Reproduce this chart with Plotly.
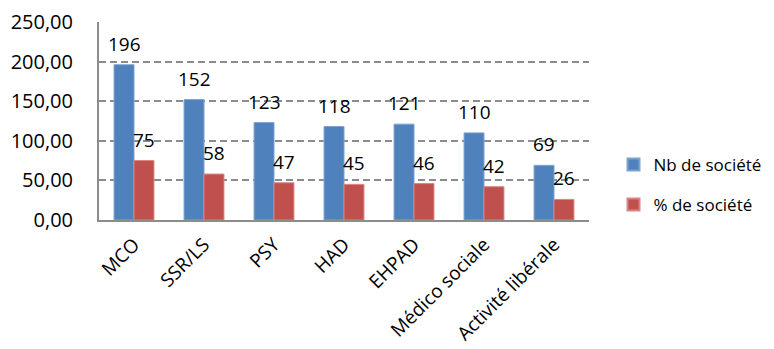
import plotly.graph_objects as go

categories = ["MCO", "SSR/LS", "PSY", "HAD", "EHPAD", "Médico sociale", "Activité libérale"]
nb_societe = [196, 152, 123, 118, 121, 110, 69]
pct_societe = [75, 58, 47, 45, 46, 42, 26]
y_ticks = [0, 50, 100, 150, 200, 250]

BLUE = "#4F81BD"
RED = "#C0504D"
FONT = "Open Sans"

fig = go.Figure()
fig.add_trace(go.Bar(
    name="Nb de société", x=categories, y=nb_societe, legend="legend",
    marker=dict(color=BLUE, line=dict(color="#7FA2D0", width=1)),
))
fig.add_trace(go.Bar(
    name="% de société", x=categories, y=pct_societe, legend="legend2",
    marker=dict(color=RED, line=dict(color="#D98482", width=1)),
))

# value labels floating above each bar
for trace_idx, values in enumerate([nb_societe, pct_societe]):
    for cat, v in zip(categories, values):
        fig.add_annotation(
            x=cat, y=v, text=str(v), showarrow=False,
            xref="x", yref="y", yanchor="middle",
            xshift=-10 if trace_idx == 0 else 10, yshift=21,
            font=dict(family=FONT, size=19, color="black"),
        )

legend_style = dict(
    xanchor="left", yanchor="middle",
    font=dict(family=FONT, size=17), itemsizing="constant",
    bgcolor="rgba(0,0,0,0)", itemwidth=30,
)

fig.update_layout(
    width=774, height=349,
    margin=dict(l=99, r=185, t=22, b=129, autoexpand=False),
    paper_bgcolor="white", plot_bgcolor="white",
    barmode="group", bargap=0.43, bargroupgap=0,
    separators=", ",
    font=dict(family=FONT, size=18, color="black"),
    legend=dict(x=1.05, y=(220 - 165) / 198, **legend_style),
    legend2=dict(x=1.05, y=(220 - 205) / 198, **legend_style),
    showlegend=True,
)
fig.update_yaxes(
    range=[0, 250], tickvals=y_ticks, tickformat=".2f",
    showgrid=True, gridcolor="#8C8C8C", gridwidth=1.5, griddash="7px,4px",
    showline=True, linecolor="#8C8C8C", linewidth=2,
    zeroline=False, ticks="", ticklabelstandoff=20, automargin=False,
    tickfont=dict(family=FONT, size=20),
)
fig.update_xaxes(
    showline=True, linecolor="#8C8C8C", linewidth=2,
    tickangle=-45, ticks="", ticklabelstandoff=4, automargin=False,
    tickfont=dict(family=FONT, size=19),
)

fig.write_html("out.html")
